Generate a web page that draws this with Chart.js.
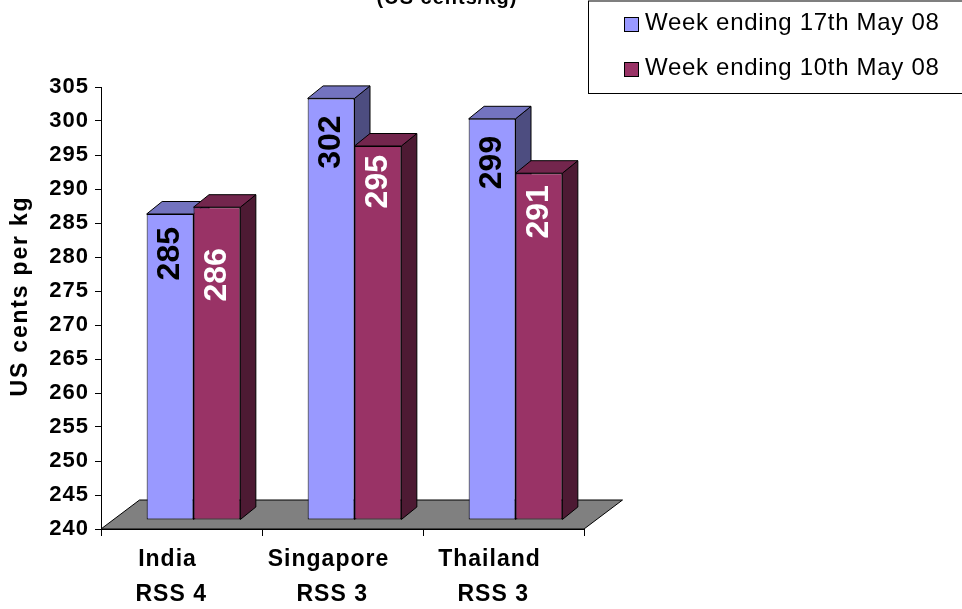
<!DOCTYPE html>
<html><head><meta charset="utf-8">
<script src="https://cdn.jsdelivr.net/npm/chart.js@4"></script>
<style>html,body{margin:0;padding:0;background:#fff;} canvas{display:block;}</style>
</head><body>
<canvas id="c" width="962" height="609"></canvas>
<script>
// ---- data ----
const categories = ['India', 'Singapore', 'Thailand'];
const grades = ['RSS 4', 'RSS 3', 'RSS 3'];
const seriesNames = ['Week ending 17th May 08', 'Week ending 10th May 08'];
const week17 = [285, 302, 299];
const week10 = [286, 295, 291];
const yMin = 240, yMax = 305, yStep = 5;
const chartTitle = '(US cents/kg)';
const yTitle = 'US cents per kg';

// ---- style ----
const FONT = '"Liberation Sans", Arial, sans-serif';
const FRONT = {x: 12, y: -9};
const BAR_DEPTH = {x: 15.5, y: -12.5};
const FLOOR_DEPTH = {x: 38.5, y: -29};
const labelGaps = [[13, 17, 17], [41, 9, 12]];
const palette = [
  {front: '#9999FF', top: '#7373BF', side: '#4D4D80', text: '#000000'},
  {front: '#993366', top: '#73264D', side: '#4D1A33', text: '#FFFFFF'}
];

function poly(ctx, pts, fill) {
  ctx.beginPath();
  ctx.moveTo(pts[0][0], pts[0][1]);
  for (let i = 1; i < pts.length; i++) ctx.lineTo(pts[i][0], pts[i][1]);
  ctx.closePath();
  ctx.fillStyle = fill;
  ctx.fill();
  ctx.lineWidth = 1;
  ctx.strokeStyle = '#000';
  ctx.stroke();
}
function wrapSpacing(scale, method, sp) {
  const orig = scale[method];
  if (orig._wrapped) return;
  const w = function (...args) {
    const c = this.ctx; c.save(); c.letterSpacing = sp; orig.apply(this, args); c.restore();
  };
  w._wrapped = true;
  scale[method] = w;
}

const bars3d = {
  id: 'bars3d',
  afterUpdate(chart) {
    wrapSpacing(chart.scales.y, 'drawLabels', '1px');
    wrapSpacing(chart.scales.x, 'drawLabels', '1px');
  },
  beforeDatasetsDraw(chart) {
    const {ctx, chartArea: a} = chart;
    ctx.save();
    poly(ctx, [[a.left, a.bottom], [a.right, a.bottom],
               [a.right + FLOOR_DEPTH.x, a.bottom + FLOOR_DEPTH.y],
               [a.left + FLOOR_DEPTH.x, a.bottom + FLOOR_DEPTH.y]], '#808080');
    const n = chart.data.labels.length;
    for (let i = 0; i < n; i++) {
      chart.data.datasets.forEach((ds, d) => {
        const el = chart.getDatasetMeta(d).data[i];
        const x0 = el.x - el.width / 2 + FRONT.x, x1 = el.x + el.width / 2 + FRONT.x;
        const top = el.y + FRONT.y, bot = Math.min(el.base, a.bottom) + FRONT.y;
        const p = palette[d];
        poly(ctx, [[x1, top], [x1 + BAR_DEPTH.x, top + BAR_DEPTH.y],
                   [x1 + BAR_DEPTH.x, bot + BAR_DEPTH.y], [x1, bot]], p.side);
        poly(ctx, [[x0, top], [x1, top], [x1 + BAR_DEPTH.x, top + BAR_DEPTH.y],
                   [x0 + BAR_DEPTH.x, top + BAR_DEPTH.y]], p.top);
      });
    }
    ctx.restore();
    ctx.save();
    ctx.translate(FRONT.x, FRONT.y);
  },
  afterDatasetsDraw(chart) {
    const ctx = chart.ctx;
    ctx.restore();
    chart.data.datasets.forEach((ds, d) => {
      chart.getDatasetMeta(d).data.forEach((el, i) => {
        const cx = el.x + FRONT.x, top = el.y + FRONT.y;
        ctx.save();
        ctx.translate(cx, top + labelGaps[d][i]);
        ctx.rotate(-Math.PI / 2);
        ctx.font = 'bold 32px ' + FONT;
        ctx.fillStyle = palette[d].text;
        ctx.textAlign = 'right';
        ctx.textBaseline = 'middle';
        ctx.fillText(String(ds.data[i]), 0, 0);
        ctx.restore();
      });
    });
  },
  afterDraw(chart) {
    const ctx = chart.ctx;
    ctx.save();
    // clipped title at the very top
    ctx.font = 'bold 20px ' + FONT;
    ctx.letterSpacing = '1px';
    ctx.fillStyle = '#000';
    ctx.textAlign = 'center';
    ctx.textBaseline = 'alphabetic';
    ctx.fillText(chartTitle, 447, 4);
    // y-axis title
    ctx.save();
    ctx.translate(21, 296);
    ctx.rotate(-Math.PI / 2);
    ctx.font = 'bold 23px ' + FONT;
    ctx.letterSpacing = '1.8px';
    ctx.textAlign = 'center';
    ctx.textBaseline = 'middle';
    ctx.fillText(yTitle, 0, 0);
    ctx.restore();
    // legend box
    ctx.letterSpacing = '0px';
    ctx.lineWidth = 1;
    ctx.strokeStyle = '#000';
    ctx.strokeRect(588.5, 1, 400, 92.5);
    ctx.font = '24px ' + FONT;
    ctx.letterSpacing = '0.7px';
    ctx.textAlign = 'left';
    ctx.textBaseline = 'alphabetic';
    chart.data.datasets.forEach((ds, d) => {
      const yy = 17 + d * 45;
      ctx.fillStyle = ds.backgroundColor;
      ctx.fillRect(624.5, yy + 0.5, 14, 14);
      ctx.strokeRect(624.5, yy + 0.5, 14, 14);
      ctx.fillStyle = '#000';
      ctx.fillText(ds.label, 645, yy + 12.5);
    });
    ctx.restore();
  }
};

Chart.defaults.font.family = FONT;
Chart.defaults.color = '#000';

new Chart(document.getElementById('c'), {
  type: 'bar',
  data: {
    labels: categories.map((c, i) => [c, ' ' + grades[i]]),
    datasets: [
      {label: seriesNames[0], data: week17, backgroundColor: palette[0].front,
       borderColor: '#000', borderWidth: 1, borderSkipped: false, base: yMin, clip: false},
      {label: seriesNames[1], data: week10, backgroundColor: palette[1].front,
       borderColor: '#000', borderWidth: 1, borderSkipped: false, base: yMin, clip: false}
    ]
  },
  options: {
    responsive: false,
    animation: false,
    devicePixelRatio: 1,
    layout: {padding: {left: 0, top: 87, right: 378, bottom: 0}},
    datasets: {bar: {categoryPercentage: 0.582, barPercentage: 1}},
    plugins: {legend: {display: false}, title: {display: false}, tooltip: {enabled: false}},
    scales: {
      x: {
        grid: {display: true, drawOnChartArea: false, drawTicks: true, tickLength: 7,
               color: '#000', offset: true},
        border: {display: true, color: '#000', width: 1},
        ticks: {font: {size: 23, weight: 'bold', lineHeight: 1.52}, padding: 6,
                labelOffset: -14, maxRotation: 0, autoSkip: false},
        afterFit(s) { s.height = 80; }
      },
      y: {
        min: yMin, max: yMax,
        grid: {display: true, drawOnChartArea: false, drawTicks: true, tickLength: 6, color: '#000'},
        border: {display: true, color: '#000', width: 1},
        ticks: {stepSize: yStep, font: {size: 22, weight: 'bold'}, padding: 6, autoSkip: false},
        title: {display: false, text: yTitle},
        afterFit(s) { s.width = 101; }
      }
    }
  },
  plugins: [bars3d]
});
</script>
</body></html>
